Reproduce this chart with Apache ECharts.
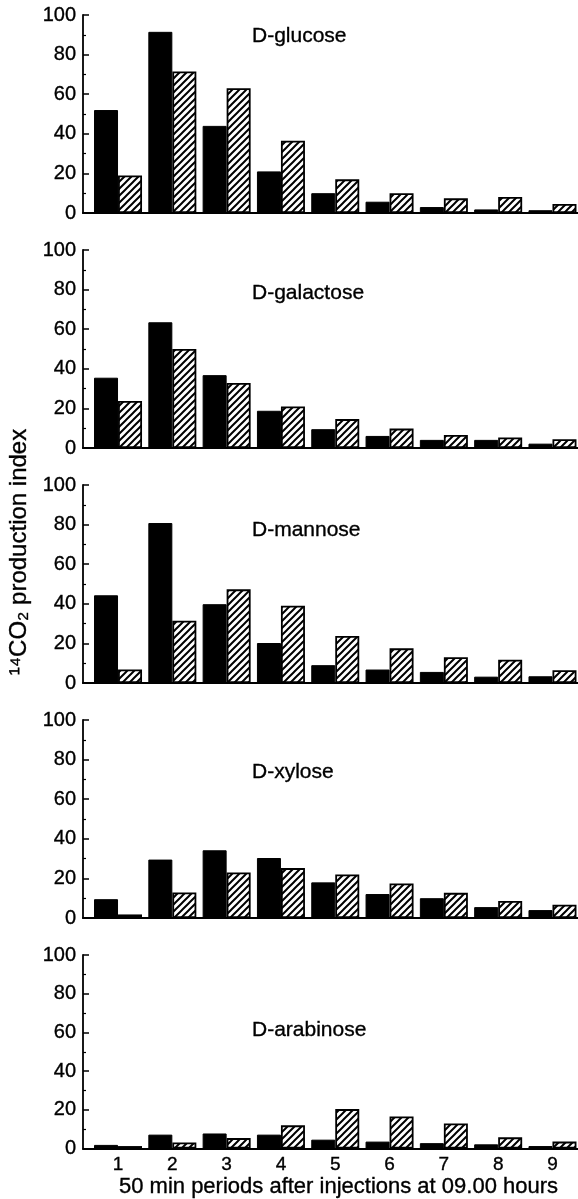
<!DOCTYPE html>
<html>
<head>
<meta charset="utf-8">
<script src="https://cdn.jsdelivr.net/npm/echarts@6/dist/echarts.min.js"></script>
<style>
html,body{margin:0;padding:0;background:#fff;}
#chart{width:578px;height:1199px;}
</style>
</head>
<body>
<div id="chart"></div>
<script>
// ---- data ----
const periods = [1, 2, 3, 4, 5, 6, 7, 8, 9];
const periodLabels = ['1', '2', '3', '4', '5', '6', '7', '8', '9'];
const sugars = ['D-glucose', 'D-galactose', 'D-mannose', 'D-xylose', 'D-arabinose'];
const glucoseSolid   = [52, 91.5, 44, 21, 10, 5.7, 3, 1.8, 1.4];
const glucoseHatched = [19, 71.5, 63, 36.5, 17, 10, 7.4, 8.1, 4.6];
const galactoseSolid   = [35.5, 63.5, 36.8, 18.8, 9.5, 6.1, 4.1, 4.1, 2.2];
const galactoseHatched = [23.8, 50, 32.8, 21, 14.6, 9.8, 6.6, 5.3, 4.4];
const mannoseSolid   = [44.3, 80.8, 39.8, 20.2, 9, 6.8, 5.6, 3.2, 3.4];
const mannoseHatched = [6.8, 31.5, 47.3, 39, 23.8, 17.5, 13, 11.8, 6.5];
const xyloseSolid   = [9.5, 29.5, 34.2, 30.3, 18, 12.1, 10, 5.5, 4];
const xyloseHatched = [1.8, 12.9, 23, 25.2, 22, 17.4, 12.7, 8.6, 6.7];
const arabinoseSolid   = [1.9, 7.2, 7.8, 7.2, 4.6, 3.6, 2.8, 2.2, 1.3];
const arabinoseHatched = [1.3, 3.2, 5.4, 12, 20.4, 16.6, 13, 5.8, 3.6];
const yTicks = [0, 20, 40, 60, 80, 100];
const xAxisTitle = '50 min periods after injections at 09.00 hours';
const yAxisTitle = '\u00B9\u2074CO\u2082 production index';

const solidSets = [glucoseSolid, galactoseSolid, mannoseSolid, xyloseSolid, arabinoseSolid];
const hatchedSets = [glucoseHatched, galactoseHatched, mannoseHatched, xyloseHatched, arabinoseHatched];

// ---- layout ----
const panelTops = [15, 250, 485, 720, 955];
const panelHeight = 198;
const gridLeft = 83;
const labelOffsets = [5.5, 27.5, 29.5, 36.5, 59.5];
const FONT = '"Liberation Sans", Arial, Helvetica, sans-serif';
const heavy = { textBorderColor: '#000', textBorderWidth: 0.35 };

// hatch pattern
function makeHatch() {
  const s = 7;
  const c = document.createElement('canvas');
  c.width = s; c.height = s;
  const g = c.getContext('2d');
  g.fillStyle = '#fff';
  g.fillRect(0, 0, s, s);
  g.strokeStyle = '#000';
  g.lineWidth = 2;
  g.beginPath();
  g.moveTo(0, s); g.lineTo(s, 0);
  g.moveTo(-2, 2); g.lineTo(2, -2);
  g.moveTo(s - 2, s + 2); g.lineTo(s + 2, s - 2);
  g.stroke();
  return c;
}
const hatch = { image: makeHatch(), repeat: 'repeat' };

const grids = [], xAxes = [], yAxes = [], series = [], titles = [];
sugars.forEach((name, i) => {
  grids.push({ left: gridLeft, right: -2, top: panelTops[i], height: panelHeight, containLabel: false });
  const last = i === sugars.length - 1;
  xAxes.push({
    type: 'value', gridIndex: i, min: 0.355, max: 9.47,
    axisLine: { show: true, onZero: false, lineStyle: { color: '#000', width: 2.2 } },
    axisTick: { show: false },
    splitLine: { show: false },
    axisLabel: Object.assign({
      show: last, customValues: periods, margin: 7,
      formatter: v => periodLabels[periods.indexOf(v)] || '',
      color: '#000', fontSize: 19, fontFamily: FONT
    }, heavy),
    name: last ? xAxisTitle : '', nameLocation: 'middle', nameGap: 24,
    nameTextStyle: Object.assign({ color: '#000', fontSize: 22, fontFamily: FONT, padding: [0, 0, 0, 16] }, heavy)
  });
  yAxes.push({
    type: 'value', gridIndex: i, min: yTicks[0], max: yTicks[yTicks.length - 1], interval: 20,
    axisLine: { show: true, lineStyle: { color: '#000', width: 1.8 } },
    axisTick: { show: true, inside: true, length: 6, lineStyle: { color: '#000', width: 1.5 } },
    minorTick: { show: true, splitNumber: 2, length: 3, lineStyle: { color: '#000', width: 1.2 } },
    splitLine: { show: false },
    axisLabel: Object.assign({ color: '#000', fontSize: 20, fontFamily: FONT, margin: 7 }, heavy)
  });
  series.push({
    type: 'bar', xAxisIndex: i, yAxisIndex: i, barWidth: 24, barGap: '0%',
    data: periods.map((p, k) => [p, solidSets[i][k]]),
    itemStyle: { color: '#000', borderColor: '#000', borderWidth: 1 },
    silent: true, animation: false
  });
  series.push({
    type: 'bar', xAxisIndex: i, yAxisIndex: i, barWidth: 24, barGap: '0%',
    data: periods.map((p, k) => [p, hatchedSets[i][k]]),
    itemStyle: { color: hatch, borderColor: '#000', borderWidth: 1.8 },
    silent: true, animation: false
  });
  titles.push({
    text: name, left: 247, top: panelTops[i] + labelOffsets[i],
    textStyle: Object.assign({ color: '#000', fontSize: 21, fontWeight: 'normal', fontFamily: FONT }, heavy)
  });
});

const chart = echarts.init(document.getElementById('chart'), null, { renderer: 'canvas' });
chart.setOption({
  backgroundColor: '#fff',
  animation: false,
  title: titles,
  grid: grids,
  xAxis: xAxes,
  yAxis: yAxes,
  series: series,
  graphic: [{
    type: 'text', x: 19, y: 552, rotation: Math.PI / 2,
    style: { text: yAxisTitle, fill: '#000', fontSize: 24, fontFamily: FONT, align: 'center', verticalAlign: 'middle', stroke: '#000', lineWidth: 0.35 }
  }]
});
</script>
</body>
</html>
